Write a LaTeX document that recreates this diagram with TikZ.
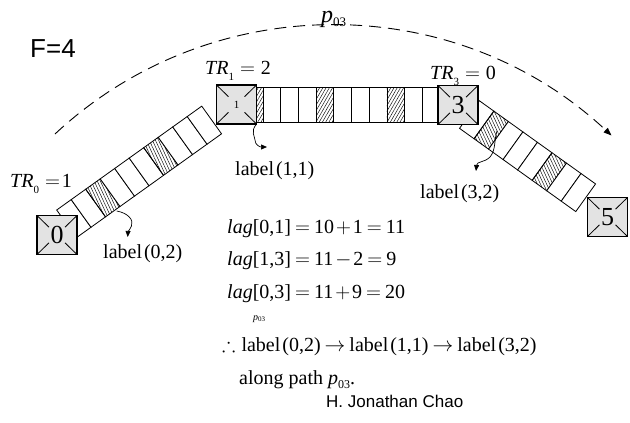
\documentclass[tikz,border=0pt]{standalone}
\usepackage{amssymb}
\usepackage{fontspec}
\setmainfont{Liberation Serif}
\newfontfamily\sansf{Liberation Sans}
\usetikzlibrary{arrows.meta,patterns.meta,calc}
\newcommand\sz[1]{\fontsize{#1}{#1}\selectfont}
\newcommand\tsub[1]{\raisebox{-0.3em}{\sz{11}#1}}
\newcommand\lbl[1]{label\hspace{0.1em}(#1)}
\begin{document}
\begin{tikzpicture}[x=1pt,y=-1pt,
  swbox/.style={draw=black, line width=1.1pt, fill=gray!22, minimum width=40pt,
    minimum height=39pt, inner sep=0pt, font=\sz{26},
    path picture={
      \foreach \a/\b in {north west/south east,south east/north west,north east/south west,south west/north east}
        \draw[line width=0.8pt] (path picture bounding box.\a) -- ($(path picture bounding box.\a)!0.3!(path picture bounding box.\b)$);
    }},
  cell/.style={draw=black, line width=0.8pt, fill=white},
  hatchA/.style={draw=black, line width=0.8pt, pattern={Lines[angle=60,distance=2.8pt,line width=0.45pt]}},
  hatchB/.style={draw=black, line width=0.8pt, pattern={Lines[angle=115,distance=2.8pt,line width=0.45pt]}},
  txt/.style={inner sep=0pt, anchor=base west, font=\sz{20}},
  squig/.style={line width=0.7pt, -{Triangle[length=6pt,width=5pt]}},
  patharc/.style={line width=0.9pt, dash pattern=on 12pt off 7pt, -{Triangle[length=8pt,width=6pt]}}
]
\useasboundingbox[fill=white] (0,0) rectangle (630,423);

% middle queue
\draw[hatchA] (256.7,87) rectangle (263,122);
\foreach \i in {0,...,9}{
  \pgfmathsetmacro\xa{263+17.7*\i}
  \pgfmathsetmacro\xb{263+17.7*(\i+1)}
  \ifnum\i=3 \draw[hatchA] (\xa,87) rectangle (\xb,122);
  \else\ifnum\i=7 \draw[hatchA] (\xa,87) rectangle (\xb,122);
  \else \draw[cell] (\xa,87) rectangle (\xb,122); \fi\fi
}
% left queue
\begin{scope}[shift={(56.7,210)}, rotate=35.6]
  \foreach \i in {0,...,9}{
    \pgfmathsetmacro\xa{17.84*\i}
    \pgfmathsetmacro\xb{17.84*(\i+1)}
    \ifnum\i=2 \draw[hatchB] (\xa,0) rectangle (\xb,34);
    \else\ifnum\i=6 \draw[hatchB] (\xa,0) rectangle (\xb,34);
    \else \draw[cell] (\xa,0) rectangle (\xb,34); \fi\fi
  }
\end{scope}
% right queue
\begin{scope}[shift={(479.3,100.7)}, rotate=-35.6]
  \foreach \i in {0,...,7}{
    \pgfmathsetmacro\xa{17.875*\i}
    \pgfmathsetmacro\xb{17.875*(\i+1)}
    \ifnum\i=1 \draw[hatchB] (\xa,0) rectangle (\xb,34);
    \else\ifnum\i=5 \draw[hatchB] (\xa,0) rectangle (\xb,34);
    \else \draw[cell] (\xa,0) rectangle (\xb,34); \fi\fi
  }
\end{scope}

% switches
\node[swbox] (n0) at (57,235) {0};
\node[swbox, font=\sz{11}] (n1) at (236.5,104.5) {1};
\node[swbox] (n3) at (458,105) {3};
\node[swbox] (n5) at (607.5,217) {5};

% path arc
\coordinate (arcS) at (55,134);
\coordinate (arcE) at (611.5,135.5);
\draw[patharc] (arcS) .. controls (211.5,-12) and (455,-10.5) .. (arcE);
\node[txt, font=\sz{24}] (p03) at (321,22) {\textit{p}\raisebox{-0.2em}{\sz{13}03}};

% texts
\node[inner sep=0pt, anchor=base west, font=\sansf\sz{26}] (F) at (30,57) {F=4};
\node[txt] (tr1) at (205,74) {\textit{TR}\tsub{1}\hspace{0.3em}$=$\hspace{0.3em}2};
\node[txt] (tr3) at (430,79) {\textit{TR}\tsub{3}\hspace{0.3em}$=$\hspace{0.3em}0};
\node[txt] (tr0) at (10,187) {\textit{TR}\tsub{0}\hspace{0.3em}$=$\hspace{0.1em}1};

\node[txt] (l02) at (103,258) {\lbl{0,2}};
\node[txt] (l11) at (235,175) {\lbl{1,1}};
\node[txt] (l32) at (420,198) {\lbl{3,2}};

% squiggle arrows
\coordinate (s1) at (256.7,124);
\coordinate (e1) at (267,147);
\draw[squig] (s1) .. controls (250,131) and (255,137) .. (255,140) .. controls (255,145) and (260,147) .. (e1);
\coordinate (s2) at (116.7,211);
\coordinate (e2) at (127.7,237);
\draw[squig] (s2) .. controls (128,213) and (134,220) .. (131.5,226) .. controls (129.5,230) and (128,232) .. (e2);
\coordinate (s3) at (497,131);
\coordinate (e3) at (476,171);
\draw[squig] (s3) .. controls (494,140) and (496,150) .. (490,157) .. controls (484,163) and (477,161) .. (e3);

% equations
\node[txt] (eq1) at (227,233) {\textit{lag}[0,1]\hspace{0.2em}$=$\hspace{0.2em}10\hspace{0.1em}$+$\hspace{0.1em}1\hspace{0.2em}$=$\hspace{0.2em}11};
\node[txt] (eq2) at (227,265) {\textit{lag}[1,3]\hspace{0.2em}$=$\hspace{0.2em}11\hspace{0.1em}$-$\hspace{0.1em}2\hspace{0.2em}$=$\hspace{0.2em}9};
\node[txt] (eq3) at (227,298) {\textit{lag}[0,3]\hspace{0.2em}$=$\hspace{0.2em}11\hspace{0.1em}$+$\hspace{0.1em}9\hspace{0.2em}$=$\hspace{0.2em}20};
\node[txt, font=\sz{10}] (eqp) at (253,320) {\textit{p}\raisebox{-0.15em}{\sz{7}03}};
\node[txt] (conc) at (222,351) {$\therefore$\hspace{0.3em}\lbl{0,2}\hspace{0.2em}$\rightarrow$\hspace{0.2em}\lbl{1,1}\hspace{0.2em}$\rightarrow$\hspace{0.2em}\lbl{3,2}};
\node[txt] (along) at (239,384) {along path \textit{p}\raisebox{-0.2em}{\sz{12}03}.};
\node[inner sep=0pt, anchor=base west, font=\sansf\sz{17}] (auth) at (326,407) {H. Jonathan Chao};
\end{tikzpicture}
\end{document}
